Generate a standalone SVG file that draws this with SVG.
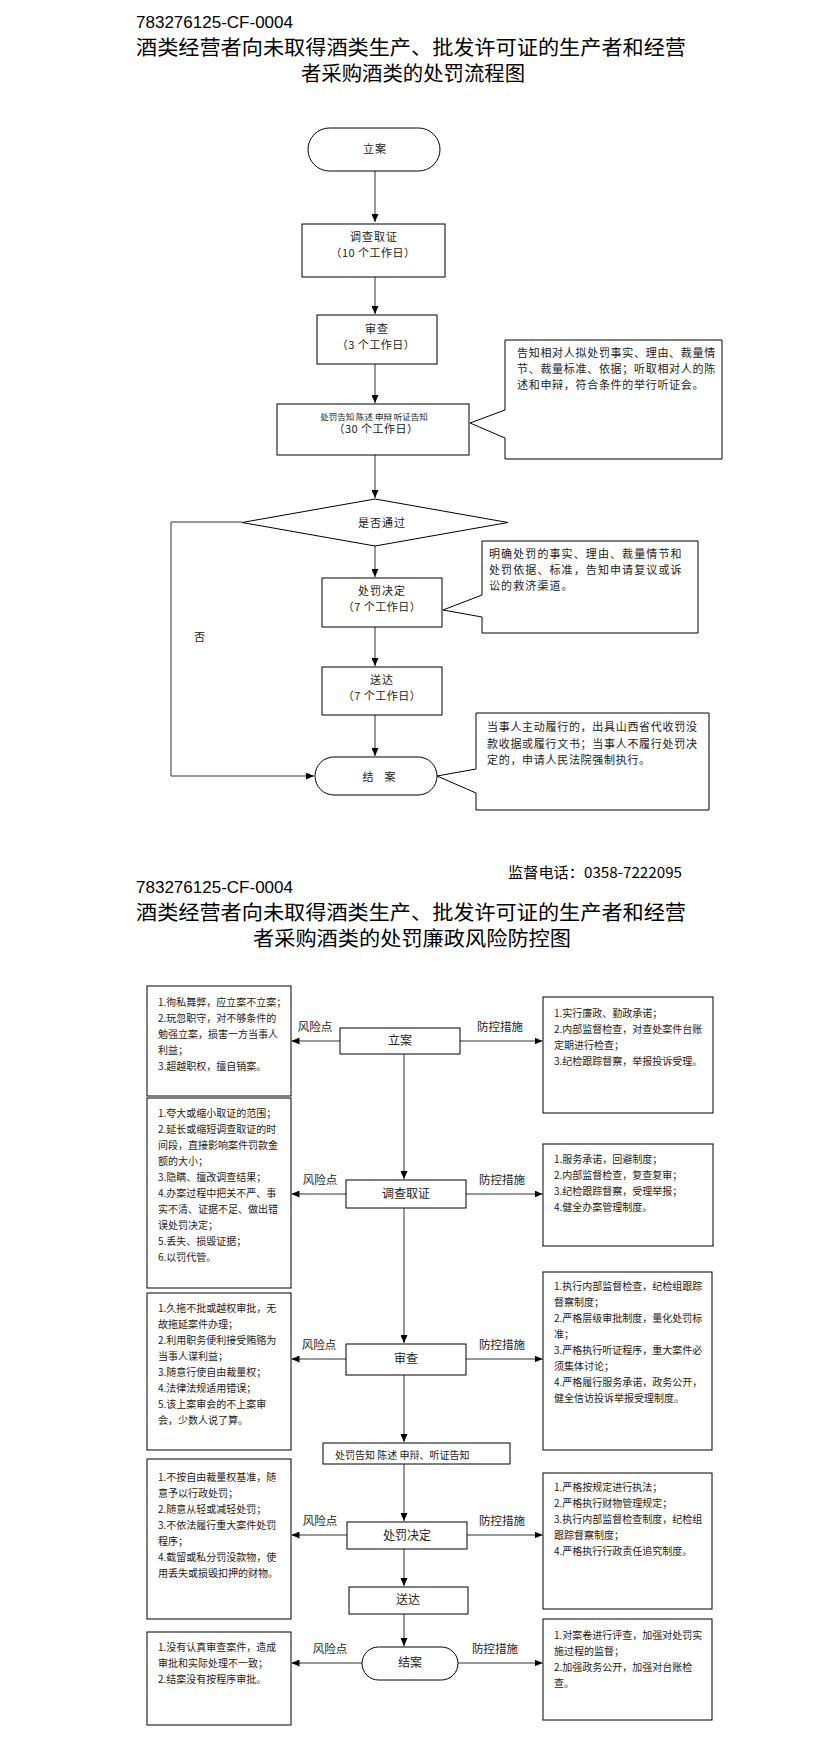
<svg xmlns="http://www.w3.org/2000/svg" width="823" height="1741" viewBox="0 0 823 1741">
<style>
.t{font-family:"Noto Sans CJK SC","Liberation Sans",sans-serif;fill:#222}
.h{font-family:"Noto Sans CJK SC","Liberation Sans",sans-serif;fill:#000;font-size:20px}
.code{font-family:"Liberation Sans","Noto Sans CJK SC",sans-serif;fill:#000;font-size:16px}
.n{font-size:11px;text-anchor:middle;letter-spacing:1px}
.c{font-size:11px;letter-spacing:0.7px}
.b{font-size:10px}
.m{font-size:12px;text-anchor:middle}
.lab{font-size:11.5px;text-anchor:middle}
.box{fill:#fff;stroke:#000;stroke-width:1}
.ln{fill:none;stroke:#333;stroke-width:1}
</style>
<defs>
<marker id="ah" markerWidth="8" markerHeight="7" refX="8" refY="3.5" orient="auto" markerUnits="userSpaceOnUse"><path d="M0,0 L8,3.5 L0,7 z" fill="#000"/></marker>
</defs>
<rect width="823" height="1741" fill="#fff"/>

<g id="header-top">
<text class="code" x="136" y="28" textLength="157" lengthAdjust="spacingAndGlyphs">783276125-CF-0004</text>
<text class="h" x="136" y="55" textLength="550" lengthAdjust="spacingAndGlyphs">酒类经营者向未取得酒类生产、批发许可证的生产者和经营</text>
<text class="h" x="301" y="81" textLength="224" lengthAdjust="spacingAndGlyphs">者采购酒类的处罚流程图</text>
</g>

<g id="connectors-top">
<path class="ln" d="M375,171 V222" marker-end="url(#ah)"/>
<path class="ln" d="M375,277 V314" marker-end="url(#ah)"/>
<path class="ln" d="M375,364 V403" marker-end="url(#ah)"/>
<path class="ln" d="M375,455 V498" marker-end="url(#ah)"/>
<path class="ln" d="M375,546 V577" marker-end="url(#ah)"/>
<path class="ln" d="M375,627 V666" marker-end="url(#ah)"/>
<path class="ln" d="M375,715 V756" marker-end="url(#ah)"/>
<path class="ln" d="M242,522 H171 V776 H314" marker-end="url(#ah)"/>
</g>

<g id="t-lian">
<rect class="box" x="308" y="128" width="132" height="43" rx="21.5"/>
<text class="t n" x="375" y="153">立案</text>
</g>
<g id="t-diaocha">
<rect class="box" x="302" y="224" width="143" height="53"/>
<text class="t n" x="374" y="241">调查取证</text>
<text class="t n" x="373" y="257" style="letter-spacing:0.5px">（10 个工作日）</text>
</g>
<g id="t-shencha">
<rect class="box" x="317" y="315" width="120" height="49"/>
<text class="t n" x="377" y="333">审查</text>
<text class="t n" x="376" y="349" style="letter-spacing:0.5px">（3 个工作日）</text>
</g>
<g id="t-gaozhi">
<rect class="box" x="277" y="404" width="192" height="51"/>
<text class="t" x="374" y="420" style="font-size:8.5px;text-anchor:middle">处罚告知 陈述 申辩 听证告知</text>
<text class="t n" x="376" y="433" style="letter-spacing:0.5px">（30 个工作日）</text>
</g>
<g id="t-decision">
<polygon class="box" points="375,499 508,522.5 375,546 242,522.5"/>
<text class="t n" x="382" y="527">是否通过</text>
</g>
<g id="t-no">
<text class="t n" x="200" y="641">否</text>
</g>
<g id="t-chufa">
<rect class="box" x="322" y="578" width="120" height="49"/>
<text class="t n" x="382" y="595">处罚决定</text>
<text class="t n" x="382" y="611" style="letter-spacing:0.5px">（7 个工作日）</text>
</g>
<g id="t-songda">
<rect class="box" x="322" y="667" width="120" height="48"/>
<text class="t n" x="382" y="684">送达</text>
<text class="t n" x="382" y="700" style="letter-spacing:0.5px">（7 个工作日）</text>
</g>
<g id="t-jiean">
<rect class="box" x="315" y="757" width="122" height="38" rx="19"/>
<text class="t n" x="379" y="781" style="letter-spacing:0">结　案</text>
</g>

<g id="callout-1">
<path class="box" d="M505,340 H722 V459 H505 V438 L470,423 L505,410 Z"/>
<text class="t c" x="517" y="357">告知相对人拟处罚事实、理由、裁量情</text>
<text class="t c" x="517" y="373">节、裁量标准、依据；听取相对人的陈</text>
<text class="t c" x="517" y="389">述和申辩，符合条件的举行听证会。</text>
</g>
<g id="callout-2">
<path class="box" d="M482,541 H698 V633 H482 V617 L443,610 L482,595 Z"/>
<text class="t c" x="489" y="558" style="letter-spacing:1.1px">明确处罚的事实、理由、裁量情节和</text>
<text class="t c" x="489" y="574" style="letter-spacing:1.1px">处罚依据、标准，告知申请复议或诉</text>
<text class="t c" x="489" y="590" style="letter-spacing:1.1px">讼的救济渠道。</text>
</g>
<g id="callout-3">
<path class="box" d="M476,713 H709 V810 H476 V793 L437,776 L476,769 Z"/>
<text class="t c" x="487" y="731">当事人主动履行的，出具山西省代收罚没</text>
<text class="t c" x="487" y="748">款收据或履行文书；当事人不履行处罚决</text>
<text class="t c" x="487" y="764">定的，申请人民法院强制执行。</text>
</g>

<g id="header-bottom">
<text class="code" x="508" y="878" textLength="174" lengthAdjust="spacingAndGlyphs" style="font-family:'Noto Sans CJK SC','Liberation Sans',sans-serif;font-size:15px">监督电话：0358-7222095</text>
<text class="code" x="136" y="893" textLength="157" lengthAdjust="spacingAndGlyphs">783276125-CF-0004</text>
<text class="h" x="136" y="920" textLength="550" lengthAdjust="spacingAndGlyphs">酒类经营者向未取得酒类生产、批发许可证的生产者和经营</text>
<text class="h" x="253" y="946" textLength="318" lengthAdjust="spacingAndGlyphs">者采购酒类的处罚廉政风险防控图</text>
</g>

<g id="connectors-bottom">
<path class="ln" d="M404,1054 V1179" marker-end="url(#ah)"/>
<path class="ln" d="M404,1208 V1343" marker-end="url(#ah)"/>
<path class="ln" d="M404,1375 V1442" marker-end="url(#ah)"/>
<path class="ln" d="M404,1464 V1521" marker-end="url(#ah)"/>
<path class="ln" d="M404,1549 V1586" marker-end="url(#ah)"/>
<path class="ln" d="M404,1614 V1646" marker-end="url(#ah)"/>
<path class="ln" d="M340,1041 H291.5" marker-end="url(#ah)"/>
<path class="ln" d="M460,1041 H542.5" marker-end="url(#ah)"/>
<path class="ln" d="M346,1194 H291.5" marker-end="url(#ah)"/>
<path class="ln" d="M466,1194 H542.5" marker-end="url(#ah)"/>
<path class="ln" d="M346,1359 H291.5" marker-end="url(#ah)"/>
<path class="ln" d="M466,1359 H542.5" marker-end="url(#ah)"/>
<path class="ln" d="M347,1535 H291.5" marker-end="url(#ah)"/>
<path class="ln" d="M467,1535 H542.5" marker-end="url(#ah)"/>
<path class="ln" d="M362,1663 H291.5" marker-end="url(#ah)"/>
<path class="ln" d="M458,1663 H542.5" marker-end="url(#ah)"/>
<text class="t lab" x="315" y="1031">风险点</text>
<text class="t lab" x="500" y="1031">防控措施</text>
<text class="t lab" x="320" y="1184">风险点</text>
<text class="t lab" x="502" y="1184">防控措施</text>
<text class="t lab" x="319" y="1349">风险点</text>
<text class="t lab" x="502" y="1349">防控措施</text>
<text class="t lab" x="320" y="1525">风险点</text>
<text class="t lab" x="502" y="1525">防控措施</text>
<text class="t lab" x="330" y="1653">风险点</text>
<text class="t lab" x="495" y="1653">防控措施</text>
</g>

<g id="b-lian">
<rect class="box" x="340" y="1028" width="120" height="26"/>
<text class="t m" x="400" y="1045">立案</text>
</g>
<g id="b-diaocha">
<rect class="box" x="346" y="1180" width="120" height="28"/>
<text class="t m" x="406" y="1198">调查取证</text>
</g>
<g id="b-shencha">
<rect class="box" x="346" y="1344" width="120" height="31"/>
<text class="t m" x="406" y="1363">审查</text>
</g>
<g id="b-gaozhi">
<rect class="box" x="323" y="1443" width="187" height="21"/>
<text class="t b" x="335" y="1459">处罚告知 陈述 申辩、听证告知</text>
</g>
<g id="b-chufa">
<rect class="box" x="347" y="1522" width="120" height="27"/>
<text class="t m" x="407" y="1540">处罚决定</text>
</g>
<g id="b-songda">
<rect class="box" x="349" y="1587" width="119" height="27"/>
<text class="t m" x="408" y="1604">送达</text>
</g>
<g id="b-jiean">
<rect class="box" x="362" y="1647" width="96" height="33" rx="16.5"/>
<text class="t m" x="410" y="1667">结案</text>
</g>

<g id="risk-1">
<rect class="box" x="147" y="986" width="144" height="110"/>
<text class="t b" x="158" y="1005.5">1.徇私舞弊，应立案不立案；</text>
<text class="t b" x="158" y="1021.5">2.玩忽职守，对不够条件的</text>
<text class="t b" x="158" y="1037.5">勉强立案，损害一方当事人</text>
<text class="t b" x="158" y="1053.5">利益；</text>
<text class="t b" x="158" y="1069.5">3.超越职权，擅自销案。</text>
</g>
<g id="measure-1">
<rect class="box" x="543" y="997" width="170" height="116"/>
<text class="t b" x="554" y="1016.5">1.实行廉政、勤政承诺；</text>
<text class="t b" x="554" y="1032.5">2.内部监督检查，对查处案件台账</text>
<text class="t b" x="554" y="1048.5">定期进行检查；</text>
<text class="t b" x="554" y="1064.5">3.纪检跟踪督察，举报投诉受理。</text>
</g>
<g id="risk-2">
<rect class="box" x="147" y="1098" width="144" height="190"/>
<text class="t b" x="158" y="1116.5">1.夸大或缩小取证的范围；</text>
<text class="t b" x="158" y="1132.5">2.延长或缩短调查取证的时</text>
<text class="t b" x="158" y="1148.5">间段，直接影响案件罚款金</text>
<text class="t b" x="158" y="1164.5">额的大小；</text>
<text class="t b" x="158" y="1180.5">3.隐瞒、擅改调查结果；</text>
<text class="t b" x="158" y="1196.5">4.办案过程中把关不严、事</text>
<text class="t b" x="158" y="1212.5">实不清、证据不足、做出错</text>
<text class="t b" x="158" y="1228.5">误处罚决定；</text>
<text class="t b" x="158" y="1244.5">5.丢失、损毁证据；</text>
<text class="t b" x="158" y="1260.5">6.以罚代管。</text>
</g>
<g id="measure-2">
<rect class="box" x="543" y="1144" width="170" height="102"/>
<text class="t b" x="554" y="1162.5">1.服务承诺，回避制度；</text>
<text class="t b" x="554" y="1178.5">2.内部监督检查，复查复审；</text>
<text class="t b" x="554" y="1194.5">3.纪检跟踪督察，受理举报；</text>
<text class="t b" x="554" y="1210.5">4.健全办案管理制度。</text>
</g>
<g id="risk-3">
<rect class="box" x="147" y="1293" width="144" height="157"/>
<text class="t b" x="158" y="1311.5">1.久拖不批或越权审批，无</text>
<text class="t b" x="158" y="1327.5">故拖延案件办理；</text>
<text class="t b" x="158" y="1343.5">2.利用职务便利接受贿赂为</text>
<text class="t b" x="158" y="1359.5">当事人谋利益；</text>
<text class="t b" x="158" y="1375.5">3.随意行使自由裁量权；</text>
<text class="t b" x="158" y="1391.5">4.法律法规适用错误；</text>
<text class="t b" x="158" y="1407.5">5.该上案审会的不上案审</text>
<text class="t b" x="158" y="1423.5">会，少数人说了算。</text>
</g>
<g id="measure-3">
<rect class="box" x="543" y="1272" width="169" height="178"/>
<text class="t b" x="554" y="1289.5">1.执行内部监督检查，纪检组跟踪</text>
<text class="t b" x="554" y="1305.5">督察制度；</text>
<text class="t b" x="554" y="1321.5">2.严格层级审批制度，量化处罚标</text>
<text class="t b" x="554" y="1337.5">准；</text>
<text class="t b" x="554" y="1353.5">3.严格执行听证程序，重大案件必</text>
<text class="t b" x="554" y="1369.5">须集体讨论；</text>
<text class="t b" x="554" y="1385.5">4.严格履行服务承诺，政务公开，</text>
<text class="t b" x="554" y="1401.5">健全信访投诉举报受理制度。</text>
</g>
<g id="risk-4">
<rect class="box" x="147" y="1459" width="144" height="160"/>
<text class="t b" x="158" y="1480.5">1.不按自由裁量权基准，随</text>
<text class="t b" x="158" y="1496.5">意予以行政处罚；</text>
<text class="t b" x="158" y="1512.5">2.随意从轻或减轻处罚；</text>
<text class="t b" x="158" y="1528.5">3.不依法履行重大案件处罚</text>
<text class="t b" x="158" y="1544.5">程序；</text>
<text class="t b" x="158" y="1560.5">4.截留或私分罚没款物，使</text>
<text class="t b" x="158" y="1576.5">用丢失或损毁扣押的财物。</text>
</g>
<g id="measure-4">
<rect class="box" x="543" y="1473" width="169" height="136"/>
<text class="t b" x="554" y="1490.5">1.严格按规定进行执法；</text>
<text class="t b" x="554" y="1506.5">2.严格执行财物管理规定；</text>
<text class="t b" x="554" y="1522.5">3.执行内部监督检查制度，纪检组</text>
<text class="t b" x="554" y="1538.5">跟踪督察制度；</text>
<text class="t b" x="554" y="1554.5">4.严格执行行政责任追究制度。</text>
</g>
<g id="risk-5">
<rect class="box" x="147" y="1632" width="144" height="93"/>
<text class="t b" x="158" y="1650.5">1.没有认真审查案件，造成</text>
<text class="t b" x="158" y="1666.5">审批和实际处理不一致；</text>
<text class="t b" x="158" y="1682.5">2.结案没有按程序审批。</text>
</g>
<g id="measure-5">
<rect class="box" x="543" y="1619" width="169" height="101"/>
<text class="t b" x="554" y="1638.5">1.对案卷进行评查，加强对处罚实</text>
<text class="t b" x="554" y="1654.5">施过程的监督；</text>
<text class="t b" x="554" y="1670.5">2.加强政务公开，加强对台账检</text>
<text class="t b" x="554" y="1686.5">查。</text>
</g>
</svg>
